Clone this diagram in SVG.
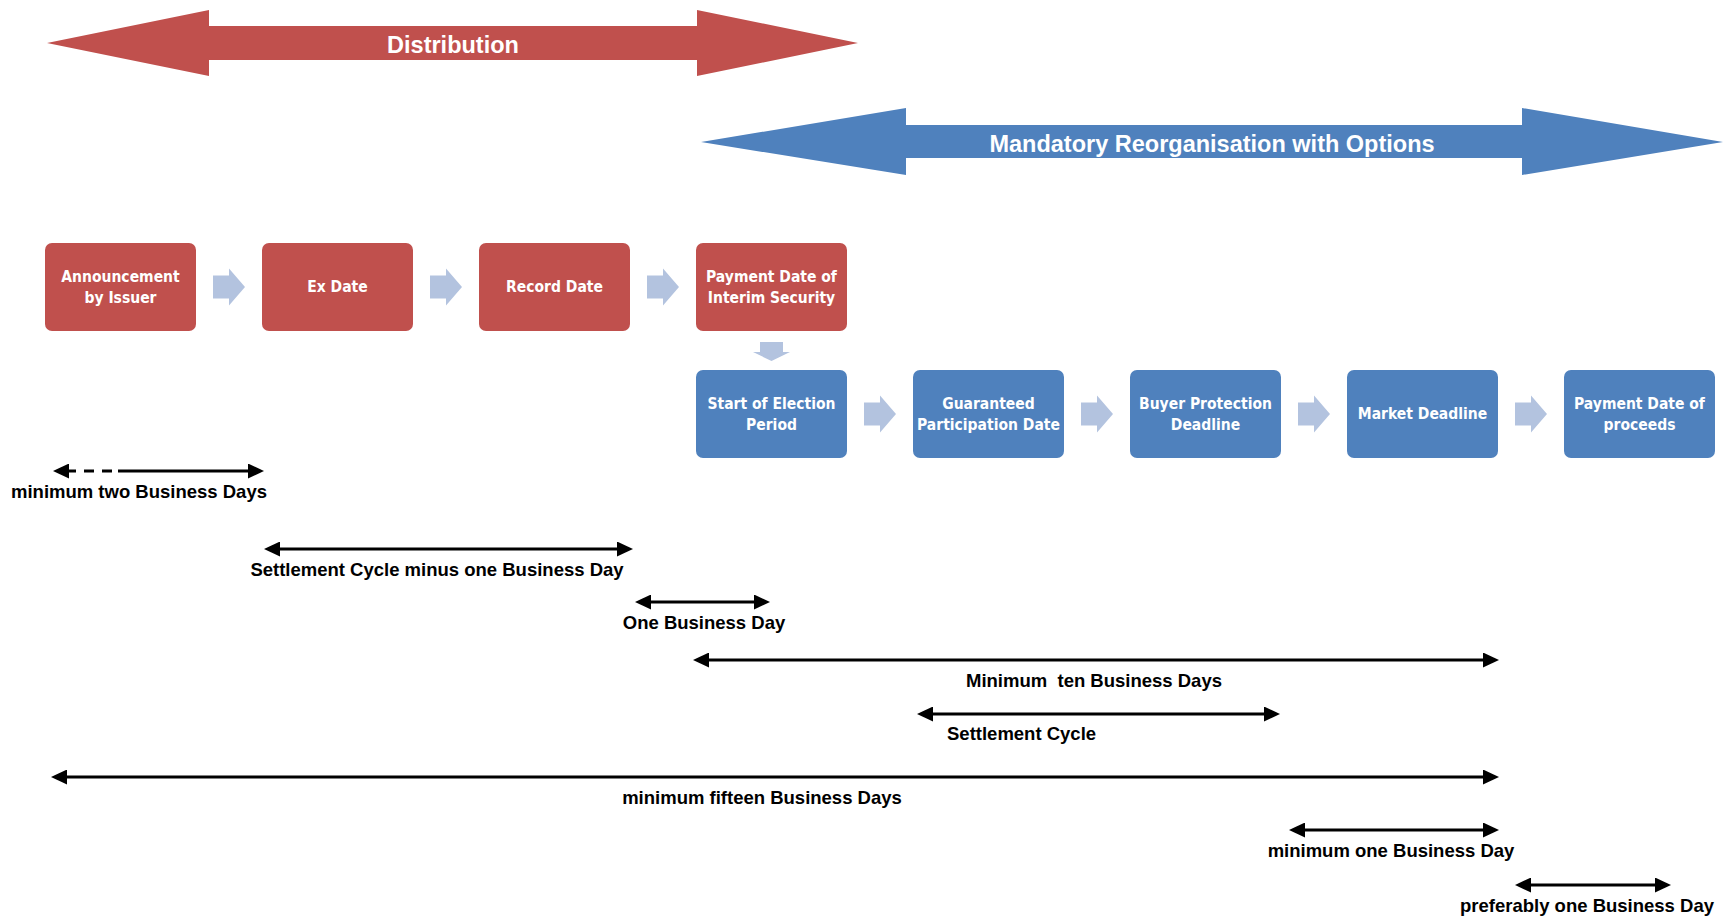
<svg xmlns="http://www.w3.org/2000/svg" width="1723" height="919" viewBox="0 0 1723 919">
<style>
.red{fill:#C0504D}
.blue{fill:#4F81BD}
.chev{fill:#B3C3DF}
.bt{fill:#fff;font-family:"Liberation Sans Narrow","DejaVu Sans Condensed","DejaVu Sans",sans-serif;font-stretch:condensed;font-weight:bold;font-size:15.5px;text-anchor:middle}
.big{fill:#fff;font-family:"Liberation Sans",Arial,sans-serif;font-weight:bold;font-size:23.5px;text-anchor:middle}
.dl{stroke:#000;stroke-width:3;fill:none;marker-start:url(#ah);marker-end:url(#ah)}
.dt{fill:#000;font-family:"Liberation Sans",Arial,sans-serif;font-weight:bold;font-size:18.5px;text-anchor:middle;white-space:pre}
</style>
<defs>
<marker id="ah" markerUnits="userSpaceOnUse" markerWidth="16" markerHeight="15" refX="8" refY="7.5" orient="auto-start-reverse" viewBox="0 0 16 15">
<path d="M0,0 L16,7.5 L0,15 z" fill="#000"/>
</marker>
<rect id="box" width="151" height="88" rx="7" ry="7"/>
<path id="chv" d="M0,-11.5 H16 V-18.5 L32,0 L16,18.5 V11.5 H0 z"/>
</defs>

<g id="distribution">
<polygon class="red" points="47,43 209,10 209,26 697,26 697,10 858,43 697,76 697,60 209,60 209,76"/>
<text class="big" x="453" y="52.5">Distribution</text>
</g>

<g id="mandatory">
<polygon class="blue" points="701,142 906,108 906,125 1522,125 1522,108 1723,142 1522,175 1522,158 906,158 906,175"/>
<text class="big" x="1212" y="151.5">Mandatory Reorganisation with Options</text>
</g>

<g id="n-announcement">
<use href="#box" class="red" x="45" y="243"/>
<text class="bt" x="120.5" y="281.5">Announcement</text>
<text class="bt" x="120.5" y="302.5">by Issuer</text>
</g>
<g id="n-exdate">
<use href="#box" class="red" x="262" y="243"/>
<text class="bt" x="337.5" y="292">Ex Date</text>
</g>
<g id="n-recorddate">
<use href="#box" class="red" x="479" y="243"/>
<text class="bt" x="554.5" y="292">Record Date</text>
</g>
<g id="n-paymentinterim">
<use href="#box" class="red" x="696" y="243"/>
<text class="bt" x="771.5" y="281.5">Payment Date of</text>
<text class="bt" x="771.5" y="302.5">Interim Security</text>
</g>

<g id="n-startelection">
<use href="#box" class="blue" x="696" y="370"/>
<text class="bt" x="771.5" y="408.5">Start of Election</text>
<text class="bt" x="771.5" y="429.5">Period</text>
</g>
<g id="n-guaranteed">
<use href="#box" class="blue" x="913" y="370"/>
<text class="bt" x="988.5" y="408.5">Guaranteed</text>
<text class="bt" x="988.5" y="429.5">Participation Date</text>
</g>
<g id="n-buyerprotection">
<use href="#box" class="blue" x="1130" y="370"/>
<text class="bt" x="1205.5" y="408.5">Buyer Protection</text>
<text class="bt" x="1205.5" y="429.5">Deadline</text>
</g>
<g id="n-marketdeadline">
<use href="#box" class="blue" x="1347" y="370"/>
<text class="bt" x="1422.5" y="419">Market Deadline</text>
</g>
<g id="n-paymentproceeds">
<use href="#box" class="blue" x="1564" y="370"/>
<text class="bt" x="1639.5" y="408.5">Payment Date of</text>
<text class="bt" x="1639.5" y="429.5">proceeds</text>
</g>

<g id="connectors">
<use href="#chv" class="chev" x="213" y="287"/>
<use href="#chv" class="chev" x="430" y="287"/>
<use href="#chv" class="chev" x="647" y="287"/>
<polygon class="chev" points="760,342 783,342 783,352 790,352 771.5,361 753,352 760,352"/>
<use href="#chv" class="chev" x="864" y="414"/>
<use href="#chv" class="chev" x="1081" y="414"/>
<use href="#chv" class="chev" x="1298" y="414"/>
<use href="#chv" class="chev" x="1515" y="414"/>
</g>

<g id="dimensions">
<path d="M61,471 H76 M84,471 H94 M102,471 H112" stroke="#000" stroke-width="3" fill="none" marker-start="url(#ah)"/>
<path d="M118,471 H256" stroke="#000" stroke-width="3" fill="none" marker-end="url(#ah)"/>
<text class="dt" x="139" y="497.5">minimum two Business Days</text>

<line class="dl" x1="272" y1="549" x2="625" y2="549"/>
<text class="dt" x="437" y="576">Settlement Cycle minus one Business Day</text>

<line class="dl" x1="643" y1="602" x2="762" y2="602"/>
<text class="dt" x="704" y="629">One Business Day</text>

<line class="dl" x1="701" y1="660" x2="1491" y2="660"/>
<text class="dt" x="1094" y="687">Minimum  ten Business Days</text>

<line class="dl" x1="925" y1="714" x2="1272" y2="714"/>
<text class="dt" x="947" y="740" style="text-anchor:start">Settlement Cycle</text>

<line class="dl" x1="59" y1="777" x2="1491" y2="777"/>
<text class="dt" x="762" y="804">minimum fifteen Business Days</text>

<line class="dl" x1="1297" y1="830" x2="1491" y2="830"/>
<text class="dt" x="1391" y="857">minimum one Business Day</text>

<line class="dl" x1="1523" y1="885" x2="1663" y2="885"/>
<text class="dt" x="1587" y="912">preferably one Business Day</text>
</g>
</svg>
